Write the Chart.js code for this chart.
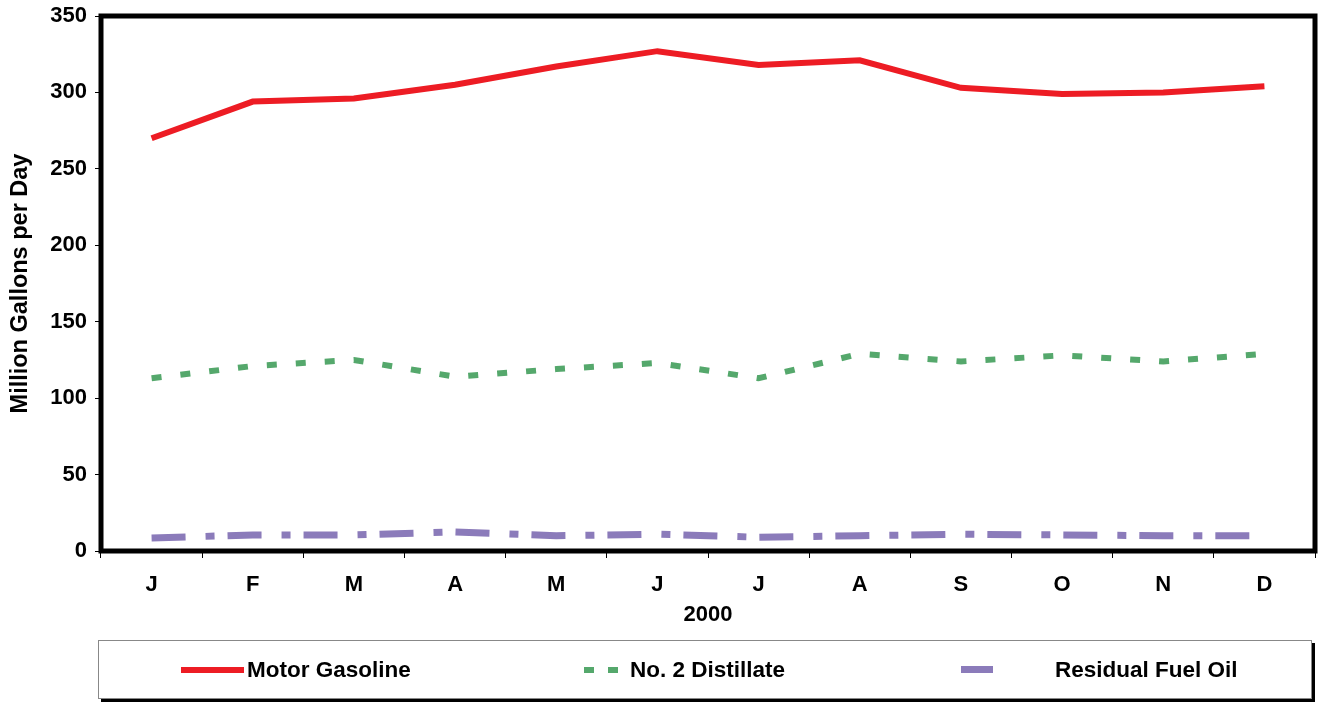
<!DOCTYPE html>
<html>
<head>
<meta charset="utf-8">
<script src="https://cdn.jsdelivr.net/npm/chart.js@4/dist/chart.umd.min.js"></script>
<style>
body{margin:0;background:#fff;font-family:"Liberation Sans",Arial,sans-serif;}
#wrap{position:relative;width:1320px;height:702px;}
#legend{position:absolute;left:98px;top:640px;width:1212px;height:57px;border:1px solid #888;box-shadow:3px 3px 0 #000;background:#fff;}
.item{position:absolute;top:0;height:57px;line-height:57px;font-weight:bold;font-size:22.5px;color:#000;}
.sw{position:absolute;top:26px;height:6px;}
</style>
</head>
<body>
<div id="wrap">
<canvas id="fuelChart" width="1320" height="702"></canvas>
<div id="legend">
<div class="sw" style="left:82px;width:63px;background:#ED1C24;"></div>
<div class="item" style="left:148px;">Motor Gasoline</div>
<div class="sw" style="left:485px;width:10px;background:#55A86C;"></div>
<div class="sw" style="left:509px;width:10px;background:#55A86C;"></div>
<div class="item" style="left:531px;">No. 2 Distillate</div>
<div class="sw" style="left:862px;width:32px;top:25px;height:7px;background:#8B7BBA;"></div>
<div class="item" style="left:956px;">Residual Fuel Oil</div>
</div>
</div>
<script>
const months = ["J","F","M","A","M","J","J","A","S","O","N","D"];

const gasoline = [270,294,296,305,317,327,318,321,303,299,300,304];
const distillate = [113,121,125,114,119,123,113,129,124,128,124,129];
const residual = [8.5,10.5,10.5,12.5,10,11,9,10,11,10.5,10,10];

const yTicks = [0,50,100,150,200,250,300,350];

const ctx = document.getElementById("fuelChart").getContext("2d");

// thick black box round the plot area
const framePlugin = {
id:"frame",
afterDraw(chart){
const a = chart.chartArea;
const c = chart.ctx;
c.save();
c.strokeStyle = "#000";
c.lineWidth = 5;
c.strokeRect(a.left, a.top, a.right - a.left, a.bottom - a.top);
c.restore();
}
};

const tickFont = {family:"'Liberation Sans', Arial, sans-serif", size:22, weight:"bold"};

new Chart(ctx,{
type:"line",
data:{
labels:months,
datasets:[
{label:"Motor Gasoline",data:gasoline,borderColor:"#ED1C24",borderWidth:6,pointRadius:0,tension:0},
{label:"No. 2 Distillate",data:distillate,borderColor:"#55A86C",borderWidth:6,borderDash:[10,19],pointRadius:0,tension:0},
{label:"Residual Fuel Oil",data:residual,borderColor:"#8B7BBA",borderWidth:7,borderDash:[34,20,9,13],pointRadius:0,tension:0}
]
},
options:{
responsive:false,
animation:false,
layout:{padding:{left:0,top:16,right:5,bottom:0}},
plugins:{legend:{display:false},tooltip:{enabled:false}},
scales:{
x:{
offset:true,
afterFit(s){ s.height = 151; s.paddingLeft = 0; s.paddingRight = 0; },
border:{display:false},
grid:{drawOnChartArea:false,drawTicks:true,tickLength:7,color:"#000",lineWidth:1,offset:true},
ticks:{font:tickFont,color:"#000",padding:14,maxRotation:0},
title:{display:true,text:"2000",font:tickFont,color:"#000",padding:{top:0,bottom:74}}
},
y:{
min:0,max:350,
afterFit(s){ s.width = 101; s.paddingTop = 0; s.paddingBottom = 0; },
afterBuildTicks(s){ s.ticks = yTicks.map(v => ({value:v})); },
border:{display:false},
grid:{drawOnChartArea:false,drawTicks:true,tickLength:6,color:"#000",lineWidth:1},
ticks:{font:tickFont,color:"#000",padding:8},
title:{display:true,text:"Million Gallons per Day",font:{family:"'Liberation Sans', Arial, sans-serif",size:23.5,weight:"bold"},color:"#000",padding:{top:6,bottom:0}}
}
}
},
plugins:[framePlugin]
});
</script>
</body>
</html>
